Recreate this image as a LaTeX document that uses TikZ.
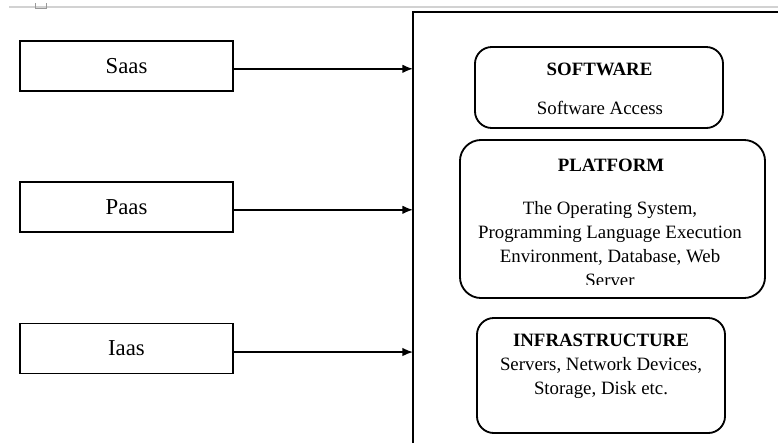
\documentclass[tikz,border=0pt]{standalone}
\usepackage{fontspec}
\setmainfont{Liberation Serif}
\usepackage{tikz}
\usetikzlibrary{calc, arrows.meta}

\begin{document}
\begin{tikzpicture}[x=0.025cm, y=-0.025cm,
        every node/.style={font=\fontsize{13.4}{17}\selectfont},
        svcbox/.style={draw, line width=1.3pt, minimum width=5.325cm, minimum height=1.25cm, font=\fontsize{16.2}{19}\selectfont},
        layerbox/.style={draw, line width=1.3pt, rounded corners=12pt},
        arr/.style={line width=1pt, -{Latex[length=7.5pt, width=6pt]}}]
        \useasboundingbox (0,0) rectangle (778,443);
        \draw[gray!35, line width=1.4pt] (9,7) -- (778,7); % page rule
        \draw[gray!80, line width=0.6pt] (35,3) -- (35,8) -- (46,8) -- (46,3);
        \draw[line width=1.4pt] (413,443) -- (413,12) -- (778,12); % Frame
        \coordinate (frame) at (413,12);
        \node[svcbox] (saas) at (126.5,66) {Saas};
        \node[svcbox] (paas) at (126.5,207) {Paas};
        \node[svcbox] (iaas) at (126.5,348.5) {Iaas};
        \draw[arr] ([yshift=-2pt]saas.east) -- ([yshift=-2pt]saas.east -| frame);
        \draw[arr] ([yshift=-2pt]paas.east) -- ([yshift=-2pt]paas.east -| frame);
        \draw[arr] ([yshift=-2.5pt]iaas.east) -- ([yshift=-2.5pt]iaas.east -| frame);
        \node[layerbox, minimum width=6.2cm, minimum height=2.025cm] (software) at (599,87.5) {};
        \node[layerbox, rounded corners=15pt, minimum width=7.625cm, minimum height=3.95cm] (platform) at (612.5,219) {};
        \node[layerbox, minimum width=6.2cm, minimum height=2.875cm] (infra) at (601,375.5) {};
        \node[font=\fontsize{13.4}{17}\selectfont\bfseries] (swtitle) at (599.5,69) {SOFTWARE};
        \node (swtext) at (600,108) {Software Access};
        \node[font=\fontsize{13.4}{17}\selectfont\bfseries] (pftitle) at (611,165) {PLATFORM};
        \begin{scope}
            \clip (460,140) rectangle (765,284);
            \node[align=center] (pftext) at (610,244) {The Operating System,\\Programming Language Execution\\Environment, Database, Web\\Server};
        \end{scope}
        \node[align=center] (iftext) at (601,366) {\textbf{INFRASTRUCTURE}\\Servers, Network Devices,\\Storage, Disk etc.};
    \end{tikzpicture}
\end{document}
